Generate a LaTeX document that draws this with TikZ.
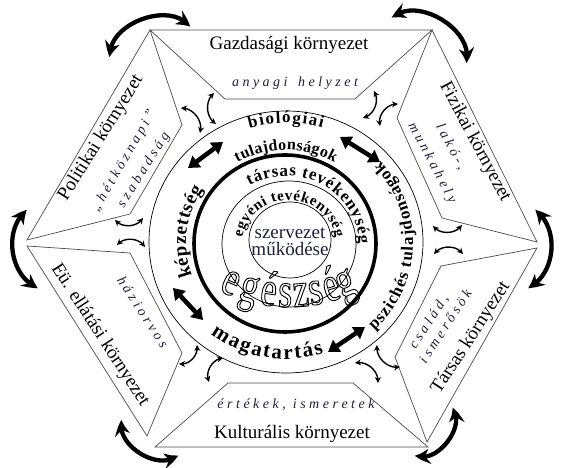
\documentclass[tikz,border=0pt]{standalone}
\usepackage{fontspec}
\setmainfont{Liberation Serif}
\newfontfamily\egfont[FakeStretch=0.72]{Liberation Serif}
\usetikzlibrary{arrows.meta,bending,decorations.text}
\definecolor{subcol}{RGB}{30,30,60}
\newcommand\ringA{\fontsize{17}{17}\selectfont\bfseries}
\newcommand\ringB{\fontsize{16}{16}\selectfont\bfseries}
\newcommand\ringC{\fontsize{19}{19}\selectfont\bfseries}
\newcommand\ringD{\fontsize{21}{21}\selectfont\bfseries}
\newcommand\ringE{\fontsize{15}{15}\selectfont\bfseries}
\newcommand\outl[1]{\special{pdf:literal direct 1 Tr 0.9 w}#1\special{pdf:literal direct 0 Tr}}
\tikzset{
  panel/.style={draw=black!70, line width=0.7pt, fill=white, line join=miter},
  ttl/.style={font=\fontsize{19}{19}\selectfont, inner sep=0pt},
  subt/.style={font=\fontsize{14}{14}\selectfont\itshape, text=subcol, inner sep=0pt},
  ctr/.style={font=\fontsize{19}{19}\selectfont, text=subcol, inner sep=0pt},
  egl/.style={font=\egfont\fontsize{50}{50}\selectfont, text=black, inner sep=0pt, anchor=base},
  smallarr/.style={line width=1.4pt, >={Stealth[length=6pt,width=6pt]}, <->},
  bigarr/.style={line width=4.3pt, >={Stealth[length=15pt,width=15pt,bend]}, <->},
  tharr/.style={line width=4.5pt, >={Triangle[length=11pt,width=14pt]}, <->},
}
\begin{document}
\begin{tikzpicture}[x=1pt,y=1pt]
\useasboundingbox (0,0) rectangle (563,468);
\fill[white] (0,0) rectangle (563,468);
% panels
\draw[panel] (150,438) -- (432,438) -- (355,369) -- (225,369) -- cycle;
\draw[panel] (432,438) -- (537,226) -- (442,250) -- (397,350) -- cycle;
\draw[panel] (537,220) -- (427,26) -- (395,111) -- (441,202) -- cycle;
\draw[panel] (428,21) -- (155,21) -- (228,85) -- (353,85) -- cycle;
\draw[panel] (147,32) -- (27,222) -- (130,215) -- (182,115) -- cycle;
\draw[panel] (27,228) -- (150,438) -- (182,343) -- (130,254) -- cycle;
% panel texts
\node[ttl] (gt) at (289,423) {Gazdasági környezet};
\node[subt] (gs) at (295,385) {a n y a g i \ \ h e l y z e t};
\node[ttl, rotate=58] (pt) at (101,330) {Politikai környezet};
\node[subt, rotate=60] (ps1) at (124,307) {„ h é t k ö z n a p i ”};
\node[subt, rotate=58] (ps2) at (144,298) {s z a b a d s á g};
\node[ttl, rotate=-62] (ft) at (475,326) {Fizikai környezet};
\node[subt, rotate=-62] (fs1) at (451,321) {l a k ó - ,};
\node[subt, rotate=-62] (fs2) at (432,305) {m u n k a h e l y};
\node[ttl, rotate=57] (tt) at (471,130) {Társas környezet};
\node[subt, rotate=57] (ts1) at (429,146) {c s a l á d ,};
\node[subt, rotate=57] (ts2) at (445,142) {i s m e r ő s ö k};
\node[ttl, rotate=-57] (et) at (100,133) {Eü. ellátási környezet};
\node[subt, rotate=-57] (es) at (143,156) {h á z i o r v o s};
\node[subt] (ks) at (296,63) {é r t é k e k , \ i s m e r e t e k};
\node[ttl] (kt) at (292,34) {Kulturális környezet};
% circles
\draw[line width=0.7pt] (286,226) ellipse [x radius=137pt, y radius=131pt];
\draw[line width=3.6pt] (285,224.5) ellipse [x radius=91pt, y radius=88.5pt];
\draw[line width=0.7pt] (289,224) ellipse [x radius=67pt, y radius=63pt];
\draw[line width=0.7pt] (290,228) ellipse [x radius=41pt, y radius=38pt];
% ring texts
\path[decorate,decoration={text along path,text align={fit to path},text={|\ringA|biológiai}}]
  (286,225) ++(107:125pt and 120pt) arc[start angle=107,end angle=73,x radius=125pt,y radius=120pt];
\path[decorate,decoration={text along path,text align={fit to path},text={|\ringB|tulajdonságok}}]
  (286,225) ++(120:97pt and 93pt) arc[start angle=120,end angle=60,x radius=97pt,y radius=93pt];
\path[decorate,decoration={text along path,text align={fit to path},text={|\ringA|pszichés tulajdonságok}}]
  (286,225) ++(-46:127pt and 122pt) arc[start angle=-46,end angle=42,x radius=127pt,y radius=122pt];
\path[decorate,decoration={text along path,text align={fit to path},text={|\ringC|képzettség}}]
  (286,225) ++(200:100pt and 96pt) arc[start angle=200,end angle=146,x radius=100pt,y radius=96pt];
\path[decorate,decoration={text along path,text align={fit to path},text={|\ringD|magatartás}}]
  (286,225) ++(-128:122pt and 116pt) arc[start angle=-128,end angle=-72,x radius=122pt,y radius=116pt];
\path[decorate,decoration={text along path,text align={fit to path},text={|\ringA|társas tevékenység}}]
  (286,224) ++(120:73pt and 68pt) arc[start angle=120,end angle=0,x radius=73pt,y radius=68pt];
\path[decorate,decoration={text along path,text align={fit to path},text={|\ringE|egyéni tevékenység}}]
  (289,224) ++(172:47pt and 44pt) arc[start angle=172,end angle=8,x radius=47pt,y radius=44pt];
% centre
\node[ctr] (sz) at (290,235) {szervezet};
\node[ctr] (mk) at (290,219) {működése};
\foreach \ch/\x/\y/\r [count=\i] in {e/225.9/174.2/-23.7, g/246.0/167.0/-15.9, é/266.9/162.6/-8.1, s/284.9/161.0/-1.5, z/301.9/161.5/4.7, s/317.9/163.7/10.6, é/334.9/167.9/17, g/350.1/173.4/22.9}
  \node[egl, rotate=\r] (eg\i) at (\x,\y) {\outl{\ch}};
% thick straight double arrows
\coordinate (u1) at (188,300); \coordinate (u2) at (223,326);
\coordinate (v1) at (340,331); \coordinate (v2) at (380,306);
\coordinate (w1) at (173,180); \coordinate (w2) at (203,148);
\coordinate (z1) at (328,116); \coordinate (z2) at (365,141);
\draw[tharr] (u1) -- (u2);
\draw[tharr] (v1) -- (v2);
\draw[tharr] (w1) -- (w2);
\draw[tharr] (z1) -- (z2);
% small curved arrows
\draw[smallarr] (181,360) to[bend left=55] (200,335);
\draw[smallarr] (214,375) to[bend right=55] (216,344);
\draw[smallarr] (374,377) to[bend left=55] (363,350);
\draw[smallarr] (380,342) to[bend left=55] (398,364);
\draw[smallarr] (433,242) to[bend right=55] (462,243);
\draw[smallarr] (434,214) to[bend left=55] (463,214);
\draw[smallarr] (377,123) to[bend right=55] (400,101);
\draw[smallarr] (355,105) to[bend left=55] (378,85);
\draw[smallarr] (197,123) to[bend left=55] (179,104);
\draw[smallarr] (223,110) to[bend right=55] (209,86);
\draw[smallarr] (115,248) to[bend right=55] (143,250);
\draw[smallarr] (117,223) to[bend left=55] (145,221);
% big curved arrows at vertices
\draw[bigarr] (110,411) to[bend left=75] (190,441);
\draw[bigarr] (392,450) to[bend left=75] (466,405);
\draw[bigarr] (535,258) to[bend left=60] (528,180);
\draw[bigarr] (452,60) to[bend left=80] (415,13);
\draw[bigarr] (122,48) to[bend right=75] (178,13);
\draw[bigarr] (27,258) to[bend right=60] (38,180);
\end{tikzpicture}
\end{document}
